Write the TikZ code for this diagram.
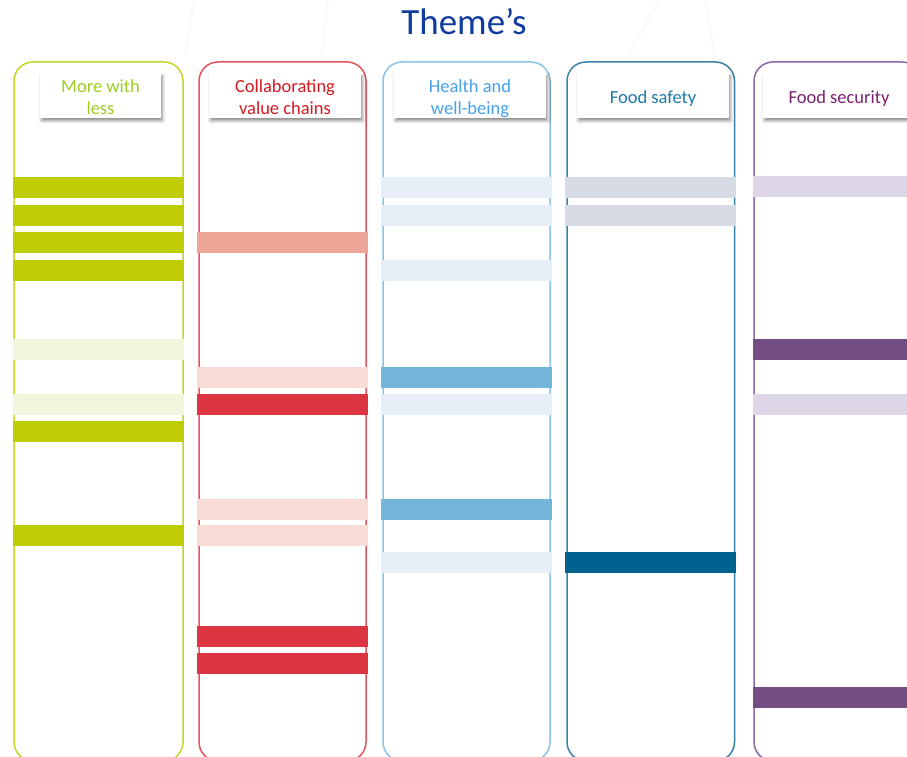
\documentclass[tikz,border=0pt]{standalone}
\usepackage{fontspec}
\setmainfont{Carlito}
\usetikzlibrary{shadows.blur}

% palette
\definecolor{titleblue}{RGB}{16,60,160}
\definecolor{faint}{RGB}{250,250,250}
\definecolor{lineA}{RGB}{196,212,40}
\definecolor{barA}{RGB}{191,206,4}
\definecolor{barAlt}{RGB}{241,245,219}
\definecolor{textA}{RGB}{158,204,36}
\definecolor{lineB}{RGB}{228,84,94}
\definecolor{barBsal}{RGB}{236,165,151}
\definecolor{barBlt}{RGB}{248,220,213}
\definecolor{barB}{RGB}{220,52,64}
\definecolor{textB}{RGB}{214,24,32}
\definecolor{lineC}{RGB}{140,196,230}
\definecolor{barC}{RGB}{116,182,218}
\definecolor{barClt}{RGB}{230,239,248}
\definecolor{textC}{RGB}{70,160,235}
\definecolor{lineD}{RGB}{58,128,168}
\definecolor{barD}{RGB}{0,98,143}
\definecolor{barDlt}{RGB}{214,219,230}
\definecolor{textD}{RGB}{30,120,168}
\definecolor{lineE}{RGB}{140,104,162}
\definecolor{barE}{RGB}{114,78,132}
\definecolor{barElt}{RGB}{221,214,230}
\definecolor{textE}{RGB}{122,34,111}

\tikzset{
  column/.style={draw=#1, line width=1.5pt, rounded corners=19pt,
    minimum height=699pt, inner sep=0pt, outer sep=0pt},
  header/.style={fill=white, minimum height=45pt, inner sep=0pt,
    blur shadow={shadow xshift=1.5pt, shadow yshift=-3pt,
      shadow opacity=45, shadow blur radius=3pt}},
  headtext/.style={text=#1, align=center, inner sep=0pt, yshift=-2pt,
    text depth=0pt, font=\fontsize{18.5}{22}\selectfont},
  watermark/.style={draw=faint, line width=3pt},
}

\begin{document}
\begin{tikzpicture}[x=1pt, y=-1pt]
\useasboundingbox (0,0) rectangle (907,757);
\clip (0,0) rectangle (907,757);

% faint background strokes behind the title
\draw[watermark] (194,0) -- (185,55);
\draw[watermark] (328,0) -- (322,55);
\draw[watermark] (660,0) -- (628,55);
\draw[watermark] (706,0) -- (714,55);

% title
\node[anchor=base, text=titleblue, font=\fontsize{37}{44}\selectfont]
  (title) at (464,35) {Theme’s};

% theme columns
\node[column=lineA, minimum width=169pt] (colA) at (98.5,411.5) {};
\node[column=lineB, minimum width=167pt] (colB) at (282.5,411.5) {};
\node[column=lineC, minimum width=167pt] (colC) at (466.5,411.5) {};
\node[column=lineD, minimum width=167.5pt] (colD) at (650.75,411.5) {};
\node[column=lineE, minimum width=167pt] (colE) at (837.5,411.5) {};

% bars: column A
\foreach \y/\c in {177/barA,205/barA,232/barA,260/barA,339/barAlt,
                   394/barAlt,421/barA,525/barA}
  \fill[\c] (13,\y) rectangle (184,\y+21);
% bars: column B
\foreach \y/\c in {232/barBsal,367/barBlt,394/barB,499/barBlt,
                   525/barBlt,626/barB,653/barB}
  \fill[\c] (197,\y) rectangle (368,\y+21);
% bars: column C
\foreach \y/\c in {177/barClt,205/barClt,260/barClt,367/barC,
                   394/barClt,499/barC,552/barClt}
  \fill[\c] (381,\y) rectangle (552,\y+21);
% bars: column D
\foreach \y/\c in {177/barDlt,205/barDlt,552/barD}
  \fill[\c] (565,\y) rectangle (736,\y+21);
% bars: column E
\foreach \y/\c in {176/barElt,339/barE,394/barElt,687/barE}
  \fill[\c] (753,\y) rectangle (925,\y+21);

% column headers
\node[header, minimum width=121pt] (hA) at (100.5,95.3) {};
\node[header, minimum width=152pt] (hB) at (285,95.3) {};
\node[header, minimum width=152pt] (hC) at (470,95.3) {};
\node[header, minimum width=152pt] (hD) at (653,95.3) {};
\node[header, minimum width=152pt] (hE) at (839,95.3) {};

\node[headtext=textA] (tA) at (hA.center) {More with\\less};
\node[headtext=textB] (tB) at (hB.center) {Collaborating\\value chains};
\node[headtext=textC] (tC) at (hC.center) {Health and\\well-being};
\node[headtext=textD] (tD) at (hD.center) {Food safety};
\node[headtext=textE] (tE) at (hE.center) {Food security};
\end{tikzpicture}
\end{document}
